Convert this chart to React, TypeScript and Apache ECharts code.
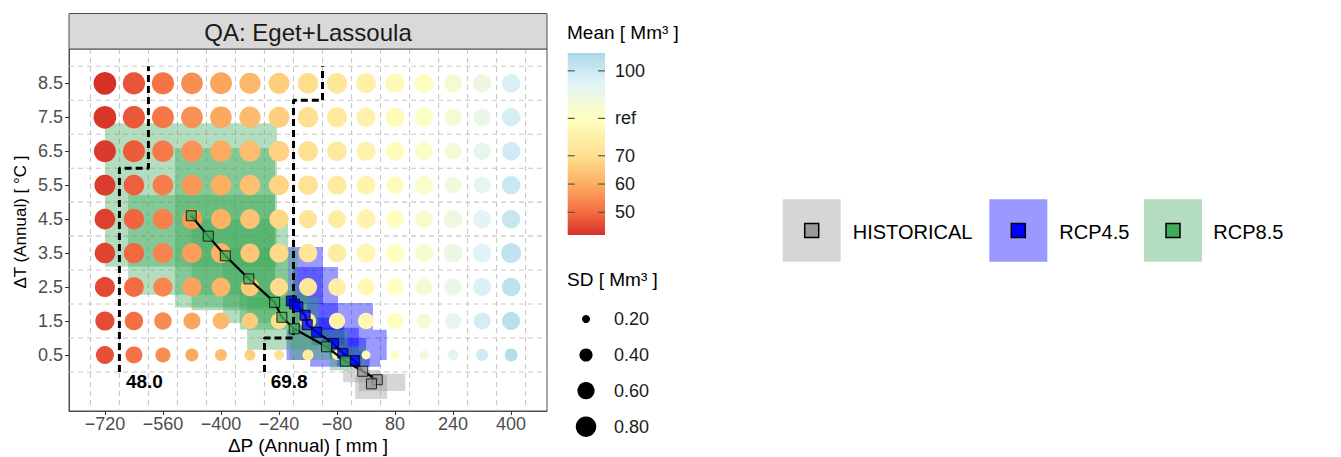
import React, { useEffect, useRef } from 'react';
import * as echarts from 'echarts';

const FONT = '"Liberation Sans", Arial, Helvetica, sans-serif';

// grid of climate changes
const X_VALUES = [-720, -640, -560, -480, -400, -320, -240, -160, -80, 0, 80, 160, 240, 320, 400];
const Y_VALUES = [0.5, 1.5, 2.5, 3.5, 4.5, 5.5, 6.5, 7.5, 8.5];

// Mean [Mm3], rows from dT 0.5 (first) to 8.5 (last)
const MEAN_ROWS = [
  [46.2, 50.9, 55.1, 59.2, 62.8, 66.3, 70.2, 73.9, 77.2, 80.6, 84.6, 89.2, 94.3, 99.2, 104.5],
  [45.6, 50.3, 54.6, 58.6, 62.1, 65.6, 69.5, 73.2, 76.6, 80.0, 84.0, 88.4, 93.2, 98.3, 103.6],
  [45.1, 49.8, 54.1, 58.1, 61.6, 65.1, 69.1, 72.7, 76.1, 79.6, 83.5, 87.6, 92.1, 97.2, 103.0],
  [44.6, 49.3, 53.6, 57.6, 61.1, 64.6, 68.6, 72.2, 75.6, 79.1, 83.0, 87.0, 91.3, 96.2, 102.2],
  [44.1, 48.8, 53.1, 57.1, 60.6, 64.1, 68.1, 71.7, 75.1, 78.6, 82.5, 86.4, 90.5, 95.2, 101.1],
  [43.6, 48.3, 52.6, 56.6, 60.1, 63.6, 67.6, 71.2, 74.6, 78.1, 82.0, 85.7, 89.6, 94.1, 100.2],
  [43.1, 47.8, 52.1, 56.1, 59.6, 63.1, 67.1, 70.7, 74.1, 77.6, 81.5, 85.1, 88.7, 93.1, 99.1],
  [42.6, 47.3, 51.6, 55.6, 59.1, 62.6, 66.6, 70.2, 73.6, 77.1, 81.0, 84.5, 87.9, 92.0, 98.1],
  [42.1, 46.8, 51.1, 55.1, 58.6, 62.1, 66.1, 69.6, 73.1, 76.6, 80.6, 84.0, 87.2, 91.1, 97.2],
];

// SD [Mm3], same layout
const SD_ROWS = [
  [0.65, 0.59, 0.49, 0.39, 0.35, 0.31, 0.27, 0.31, 0.27, 0.23, 0.23, 0.23, 0.31, 0.35, 0.39],
  [0.72, 0.68, 0.62, 0.59, 0.58, 0.56, 0.56, 0.56, 0.56, 0.56, 0.54, 0.49, 0.54, 0.59, 0.65],
  [0.77, 0.75, 0.72, 0.71, 0.69, 0.67, 0.65, 0.65, 0.62, 0.59, 0.59, 0.59, 0.62, 0.65, 0.68],
  [0.80, 0.79, 0.77, 0.77, 0.75, 0.72, 0.71, 0.68, 0.68, 0.71, 0.65, 0.65, 0.68, 0.68, 0.77],
  [0.81, 0.80, 0.80, 0.79, 0.77, 0.75, 0.72, 0.65, 0.63, 0.71, 0.63, 0.63, 0.67, 0.65, 0.67],
  [0.83, 0.81, 0.81, 0.81, 0.81, 0.79, 0.77, 0.74, 0.71, 0.71, 0.63, 0.67, 0.58, 0.58, 0.67],
  [0.90, 0.90, 0.86, 0.86, 0.85, 0.83, 0.81, 0.77, 0.74, 0.71, 0.68, 0.65, 0.59, 0.62, 0.68],
  [0.95, 0.92, 0.90, 0.88, 0.88, 0.85, 0.83, 0.80, 0.77, 0.71, 0.71, 0.71, 0.61, 0.61, 0.67],
  [0.95, 0.92, 0.92, 0.88, 0.90, 0.85, 0.83, 0.81, 0.81, 0.77, 0.71, 0.72, 0.63, 0.65, 0.67],
];

const X_TICKS = [-720, -560, -400, -240, -80, 80, 240, 400];
const Y_TICKS = [0.5, 1.5, 2.5, 3.5, 4.5, 5.5, 6.5, 7.5, 8.5];
const X_GRID = [-760, -680, -600, -520, -440, -360, -280, -200, -120, -40, 40, 120, 200, 280, 360, 440];
const Y_GRID = [0, 1, 2, 3, 4, 5, 6, 7, 8, 9];

// scenario trajectories
const RCP85_X = [-482, -435, -388, -323, -252, -232, -198, -109, -57];
const RCP85_Y = [4.6, 4.0, 3.42, 2.74, 2.05, 1.61, 1.27, 0.74, 0.32];
const RCP45_X = [-206, -197, -188, -168, -162, -136, -90, -64, -31];
const RCP45_Y = [2.09, 2.0, 1.92, 1.67, 1.39, 1.17, 0.84, 0.55, 0.33];
const HIST_X = [-9, 31, 15];
const HIST_Y = [0.02, -0.23, -0.35];

// scenario ranges (rectangles)
const RCP85_X0 = [-720, -656, -527, -481, -394, -348, -328, -210, -100];
const RCP85_X1 = [-246, -251, -251, -215, -188, -160, -130, -50, 0];
const RCP85_Y0 = [3.1, 2.27, 1.9, 1.82, 1.44, 1.24, 0.65, 0.35, 0.05];
const RCP85_Y1 = [7.32, 5.21, 6.59, 4.5, 3.65, 2.4, 2.2, 1.24, 0.75];
const RCP45_X0 = [-215, -201, -163, -219, -150, -120, -100, -154, -80];
const RCP45_X1 = [-119, -77, 19, 57, -60, -20, 0, 39, 10];
const RCP45_Y0 = [2.0, 1.24, 1.24, 0.35, 0.8, 0.6, 0.4, 0.15, 0.15];
const RCP45_Y1 = [3.68, 3.09, 2.03, 1.24, 1.6, 1.3, 1.0, 0.35, 0.6];
const HIST_X0 = [-63, -20, -30];
const HIST_X1 = [40, 108, 58];
const HIST_Y0 = [-0.3, -0.56, -0.8];
const HIST_Y1 = [0.06, -0.05, -0.1];

// contour lines
const C48_X = [-680, -680, -600, -600];
const C48_Y = [0, 6, 6, 9];
const C70_X = [-280, -280, -200, -200, -120, -120];
const C70_Y = [0, 1, 1, 8, 8, 9];
const C_LABELS = ['48.0', '69.8'];
const C_LABEL_X = [-662, -263];
const C_LABEL_Y = [-0.29, -0.29];

// legends
const MEAN_MIN = 42;
const MEAN_MAX = 106.3;
const MEAN_REF = 83.2;
const MEAN_TICK_VALUES = [100, MEAN_REF, 70, 60, 50];
const MEAN_TICK_LABELS = ['100', 'ref', '70', '60', '50'];
const SD_LEGEND = [0.2, 0.4, 0.6, 0.8];
const SCENARIOS = ['HISTORICAL', 'RCP4.5', 'RCP8.5'];

const COLOR_STOPS: [number, string][] = [
  [42, '#d73027'],
  [50, '#f46d43'],
  [60, '#fdae61'],
  [70, '#fee090'],
  [MEAN_REF, '#ffffbf'],
  [96, '#e0f3f8'],
  [106.3, '#abd9e9'],
];

function hexToRgb(h: string) {
  const n = parseInt(h.slice(1), 16);
  return [(n >> 16) & 255, (n >> 8) & 255, n & 255];
}
function colorAt(v: number) {
  if (v <= COLOR_STOPS[0][0]) return COLOR_STOPS[0][1];
  for (let i = 1; i < COLOR_STOPS.length; i++) {
    if (v <= COLOR_STOPS[i][0]) {
      const [a, ca] = COLOR_STOPS[i - 1];
      const [b, cb] = COLOR_STOPS[i];
      const t = (v - a) / (b - a);
      const A = hexToRgb(ca), B = hexToRgb(cb);
      const c = A.map((x, k) => Math.round(x + (B[k] - x) * t));
      return `rgb(${c[0]},${c[1]},${c[2]})`;
    }
  }
  return COLOR_STOPS[COLOR_STOPS.length - 1][1];
}
const sdToSize = (sd: number) => -4.5 + 27.96 * Math.sqrt(sd);
const fmtMinus = (v: number) => (v < 0 ? '\u2212' + Math.abs(v) : String(v));

const SCEN_FILL = ['rgba(153,153,153,0.4)', 'rgba(0,0,255,0.4)', 'rgba(65,171,93,0.4)'];
const SCEN_MARK = ['#999999', '#0000ff', '#41ab5d'];

export default function App() {
  const ref = useRef<HTMLDivElement>(null);
  useEffect(() => {
    document.body.style.margin = '0';
    const chart = echarts.init(ref.current!, null, { renderer: 'svg' });

    const circles: any[] = [];
    Y_VALUES.forEach((y, r) =>
      X_VALUES.forEach((x, c) => circles.push([x, y, MEAN_ROWS[r][c], SD_ROWS[r][c]]))
    );

    const rects: any[] = [];
    RCP45_X0.forEach((_, i) => rects.push([RCP45_X0[i], RCP45_X1[i], RCP45_Y0[i], RCP45_Y1[i], 1]));
    RCP85_X0.forEach((_, i) => rects.push([RCP85_X0[i], RCP85_X1[i], RCP85_Y0[i], RCP85_Y1[i], 2]));
    HIST_X0.forEach((_, i) => rects.push([HIST_X0[i], HIST_X1[i], HIST_Y0[i], HIST_Y1[i], 0]));

    const grid: any[] = [];
    X_GRID.forEach((v) => grid.push([v, 0]));
    Y_GRID.forEach((v) => grid.push([v, 1]));

    const pts = (xs: number[], ys: number[]) => xs.map((x, i) => [x, ys[i]]);
    const histPath = pts(HIST_X, HIST_Y).slice(0, 2);

    const nSamples = 129;
    const vmColors: string[] = [];
    for (let i = 0; i < nSamples; i++) {
      vmColors.push(colorAt(MEAN_MIN + ((MEAN_MAX - MEAN_MIN) * i) / (nSamples - 1)));
    }

    // legend geometry
    const barX = 567.7, barY = 53, barW = 37.3, barH = 182;
    const valToBarY = (v: number) => barY + ((MEAN_MAX - v) / (MEAN_MAX - MEAN_MIN)) * barH;
    const graphic: any[] = [];
    graphic.push({
      type: 'rect', shape: { x: 69, y: 13.5, width: 478, height: 35.5 },
      style: { fill: '#d9d9d9', stroke: '#4d4d4d', lineWidth: 1 }, z: 10,
    });
    graphic.push({
      type: 'text', x: 308, y: 32, z: 11,
      style: { text: 'QA: Eget+Lassoula', fontSize: 24, fontFamily: FONT, fill: '#1a1a1a', align: 'center', verticalAlign: 'middle' },
    });
    graphic.push({
      type: 'text', x: 308, y: 445, z: 11,
      style: { text: '\u0394P (Annual) [ mm ]', fontSize: 19, fontFamily: FONT, fill: '#000', align: 'center', verticalAlign: 'middle' },
    });
    graphic.push({
      type: 'text', x: 20, y: 222, rotation: Math.PI / 2, z: 11,
      style: { text: '\u0394T (Annual) [ \u00B0C ]', fontSize: 17, fontFamily: FONT, fill: '#000', align: 'center', verticalAlign: 'middle' },
    });
    // Mean colorbar
    graphic.push({
      type: 'text', x: 567, y: 32, z: 11,
      style: { text: 'Mean [ Mm\u00B3 ]', fontSize: 19, fontFamily: FONT, fill: '#000', align: 'left', verticalAlign: 'middle' },
    });
    graphic.push({
      type: 'rect', shape: { x: barX, y: barY, width: barW, height: barH }, z: 11,
      style: {
        fill: new echarts.graphic.LinearGradient(0, 0, 0, 1,
          COLOR_STOPS.slice().reverse().map(([v, c]) => ({ offset: (MEAN_MAX - v) / (MEAN_MAX - MEAN_MIN), color: c }))),
      },
    });
    MEAN_TICK_VALUES.forEach((v, i) => {
      const y = valToBarY(v);
      graphic.push({ type: 'line', z: 12, shape: { x1: barX, y1: y, x2: barX + 7, y2: y }, style: { stroke: '#555', lineWidth: 1.2 } });
      graphic.push({ type: 'line', z: 12, shape: { x1: barX + barW - 7, y1: y, x2: barX + barW, y2: y }, style: { stroke: '#555', lineWidth: 1.2 } });
      graphic.push({
        type: 'text', x: 615, y, z: 12,
        style: { text: MEAN_TICK_LABELS[i], fontSize: 18, fontFamily: FONT, fill: '#1a1a1a', align: 'left', verticalAlign: 'middle' },
      });
    });
    // SD legend
    graphic.push({
      type: 'text', x: 567, y: 279, z: 11,
      style: { text: 'SD [ Mm\u00B3 ]', fontSize: 19, fontFamily: FONT, fill: '#000', align: 'left', verticalAlign: 'middle' },
    });
    const sdY = [319, 355, 390.7, 426.7];
    SD_LEGEND.forEach((sd, i) => {
      graphic.push({ type: 'circle', z: 11, shape: { cx: 586, cy: sdY[i], r: sdToSize(sd) / 2 }, style: { fill: '#000' } });
      graphic.push({
        type: 'text', x: 614, y: sdY[i], z: 11,
        style: { text: sd.toFixed(2), fontSize: 18, fontFamily: FONT, fill: '#1a1a1a', align: 'left', verticalAlign: 'middle' },
      });
    });
    // scenario legend
    const keyX = [782.7, 989.3, 1144];
    const textX = [852.7, 1059.3, 1213.3];
    SCENARIOS.forEach((s, i) => {
      graphic.push({ type: 'rect', z: 11, shape: { x: keyX[i], y: 199.3, width: 58, height: 62.4 }, style: { fill: SCEN_FILL[i] } });
      graphic.push({
        type: 'rect', z: 12, shape: { x: keyX[i] + 29 - 7, y: 230.5 - 7, width: 14, height: 14 },
        style: { fill: SCEN_MARK[i], stroke: '#000', lineWidth: 1.5 },
      });
      graphic.push({
        type: 'text', x: textX[i], y: 232, z: 12,
        style: { text: s, fontSize: 20, fontFamily: FONT, fill: '#000', align: 'left', verticalAlign: 'middle' },
      });
    });
    // contour labels (positioned in data space)
    C_LABELS.forEach((l, i) => {
      graphic.push({
        type: 'text', z: 12, id: 'clab' + i,
        style: { text: l, fontSize: 19, fontWeight: 'bold', fontFamily: FONT, fill: '#000', align: 'left', verticalAlign: 'middle' },
      });
    });

    const option: any = {
      animation: false,
      textStyle: { fontFamily: FONT },
      grid: {
        left: 69, top: 49, width: 478, height: 362, show: true,
        borderColor: '#4d4d4d', borderWidth: 1, backgroundColor: '#fff',
      },
      xAxis: {
        type: 'value', min: -819, max: 499,
        axisLine: { show: true, onZero: false, lineStyle: { color: '#4d4d4d' } },
        splitLine: { show: false },
        axisTick: { show: true, length: 4, customValues: X_TICKS, lineStyle: { color: '#333' } },
        axisLabel: { customValues: X_TICKS, formatter: fmtMinus, color: '#4d4d4d', fontSize: 18, margin: 4 },
      },
      yAxis: {
        type: 'value', min: -1.15, max: 9.51,
        axisLine: { show: true, onZero: false, lineStyle: { color: '#4d4d4d' } },
        splitLine: { show: false },
        axisTick: { show: true, length: 4, customValues: Y_TICKS, lineStyle: { color: '#333' } },
        axisLabel: { customValues: Y_TICKS, formatter: (v: number) => v.toFixed(1), color: '#4d4d4d', fontSize: 18, margin: 6 },
      },
      visualMap: {
        type: 'continuous', show: false, dimension: 2, seriesIndex: [2],
        min: MEAN_MIN, max: MEAN_MAX, inRange: { color: vmColors },
      },
      series: [
        {
          type: 'custom', silent: true, z: 1, data: grid, encode: { x: 0, y: 1 },
          renderItem: (params: any, api: any) => {
            const v = api.value(0);
            const o = api.value(1);
            const cs = params.coordSys;
            if (o === 0) {
              const x = api.coord([v, 0])[0];
              return { type: 'line', shape: { x1: x, y1: cs.y, x2: x, y2: cs.y + cs.height }, style: { stroke: '#c8c8c8', lineWidth: 1.1, lineDash: [5, 4] } };
            }
            const y = api.coord([0, v])[1];
            return { type: 'line', shape: { x1: cs.x, y1: y, x2: cs.x + cs.width, y2: y }, style: { stroke: '#c8c8c8', lineWidth: 1.1, lineDash: [5, 4] } };
          },
        },
        {
          type: 'custom', silent: true, z: 2, data: rects, encode: { x: [0, 1], y: [2, 3] },
          renderItem: (params: any, api: any) => {
            const p0 = api.coord([api.value(0), api.value(3)]);
            const p1 = api.coord([api.value(1), api.value(2)]);
            return {
              type: 'rect',
              shape: { x: p0[0], y: p0[1], width: p1[0] - p0[0], height: p1[1] - p0[1] },
              style: { fill: SCEN_FILL[api.value(4)] },
            };
          },
        },
        {
          type: 'scatter', z: 3, data: circles, symbol: 'circle',
          symbolSize: (val: number[]) => sdToSize(val[3]),
          itemStyle: { opacity: 1 },
        },
        {
          type: 'line', z: 4, data: pts(C48_X, C48_Y), symbol: 'none',
          lineStyle: { color: '#000', width: 3, type: [7, 4], cap: 'butt' },
        },
        {
          type: 'line', z: 4, data: pts(C70_X, C70_Y), symbol: 'none',
          lineStyle: { color: '#000', width: 3, type: [7, 4], cap: 'butt' },
        },
        {
          type: 'line', z: 5, data: pts(RCP85_X, RCP85_Y).concat(histPath), symbol: 'none',
          lineStyle: { color: '#000', width: 2.2 },
        },
        {
          type: 'line', z: 5, data: pts(RCP45_X, RCP45_Y).concat(histPath), symbol: 'none',
          lineStyle: { color: '#000', width: 2.2 },
        },
        {
          type: 'scatter', z: 6, data: pts(RCP45_X, RCP45_Y), symbol: 'rect', symbolSize: 10,
          itemStyle: { color: SCEN_MARK[1], borderColor: '#000', borderWidth: 1 },
        },
        {
          type: 'scatter', z: 6, data: pts(RCP85_X, RCP85_Y), symbol: 'rect', symbolSize: 10,
          itemStyle: { color: SCEN_MARK[2], borderColor: '#000', borderWidth: 1 },
        },
        {
          type: 'scatter', z: 6, data: pts(HIST_X, HIST_Y), symbol: 'rect', symbolSize: 10,
          itemStyle: { color: SCEN_MARK[0], borderColor: '#000', borderWidth: 1 },
        },
      ],
      graphic,
    };
    chart.setOption(option);
    // place contour labels through the chart's own coordinate conversion
    chart.setOption({
      graphic: C_LABELS.map((_, i) => {
        const p = chart.convertToPixel({ gridIndex: 0 }, [C_LABEL_X[i], C_LABEL_Y[i]]);
        return { id: 'clab' + i, x: p[0], y: p[1] };
      }),
    });
    return () => chart.dispose();
  }, []);
  return <div ref={ref} style={{ width: 1341, height: 457 }} />;
}
